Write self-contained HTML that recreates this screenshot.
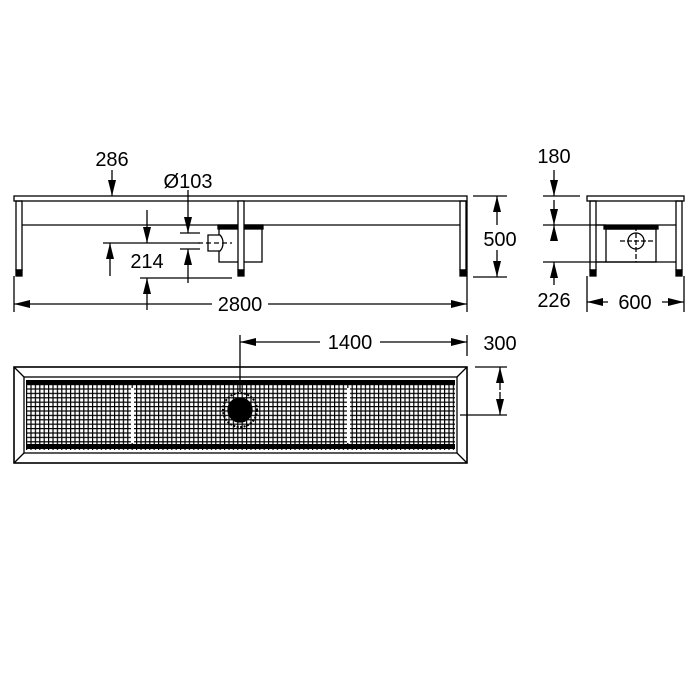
<!DOCTYPE html>
<html><head><style>body{margin:0;background:#fff}svg{display:block}text{font-family:"Liberation Sans",sans-serif;font-size:20px;fill:#000}</style></head>
<body>
<svg width="700" height="700" viewBox="0 0 700 700" xmlns="http://www.w3.org/2000/svg">
<defs>
<marker id="a" markerWidth="16" markerHeight="8" refX="16" refY="4" orient="auto" markerUnits="userSpaceOnUse"><path d="M0,0L16,4L0,8z" fill="#000"/></marker>
<pattern id="m" width="4.4" height="4.4" patternUnits="userSpaceOnUse" x="26" y="384"><rect width="4.4" height="4.4" fill="#000"/><rect x="1.2" y="1.2" width="3.2" height="3.2" fill="#fff"/></pattern>
</defs>
<g stroke="#000" fill="none" stroke-width="1.3">
<rect x="14" y="196" width="453" height="5"/>
<line x1="22" y1="225" x2="460" y2="225"/>
<rect x="16" y="201" width="6" height="69"/><rect x="16" y="270" width="6" height="6" fill="#000"/>
<rect x="460" y="201" width="6" height="69"/><rect x="460" y="270" width="6" height="6" fill="#000"/>
<rect x="219" y="226" width="43" height="36"/><rect x="218" y="225" width="45" height="4" fill="#000"/>
<rect x="238" y="201" width="6" height="69" fill="#fff"/><rect x="238" y="270" width="6" height="6" fill="#000"/>
<path d="M208,235H220C224,239 224,247 220,251H208Z" fill="#fff"/>
<line x1="198" y1="243" x2="232" y2="243" stroke-dasharray="5,3"/>
<line x1="112" y1="170" x2="112" y2="196" marker-end="url(#a)"/>
<line x1="147" y1="210" x2="147" y2="243" marker-end="url(#a)"/>
<line x1="103" y1="243" x2="200" y2="243"/>
<line x1="110" y1="276" x2="110" y2="243" marker-end="url(#a)"/>
<line x1="140" y1="278" x2="232" y2="278"/>
<line x1="147" y1="310" x2="147" y2="278" marker-end="url(#a)"/>
<line x1="188" y1="190" x2="188" y2="233" marker-end="url(#a)"/>
<line x1="180" y1="233" x2="200" y2="233"/><line x1="180" y1="249" x2="200" y2="249"/>
<line x1="188" y1="283" x2="188" y2="249" marker-end="url(#a)"/>
<line x1="14" y1="276" x2="14" y2="312"/><line x1="467" y1="201" x2="467" y2="312"/>
<line x1="212" y1="304" x2="14" y2="304" marker-end="url(#a)"/>
<line x1="268" y1="304" x2="467" y2="304" marker-end="url(#a)"/>
<line x1="473" y1="196" x2="507" y2="196"/><line x1="473" y1="277" x2="507" y2="277"/>
<line x1="497" y1="225" x2="497" y2="196" marker-end="url(#a)"/>
<line x1="497" y1="250" x2="497" y2="277" marker-end="url(#a)"/>
<rect x="587" y="196" width="97" height="5"/>
<rect x="590" y="201" width="6" height="69"/><rect x="590" y="270" width="6" height="6" fill="#000"/>
<rect x="676" y="201" width="6" height="69"/><rect x="676" y="270" width="6" height="6" fill="#000"/>
<line x1="596" y1="225" x2="676" y2="225"/>
<line x1="596" y1="262" x2="676" y2="262"/>
<rect x="606" y="229" width="50" height="33"/><rect x="604" y="226" width="54" height="3" fill="#000"/>
<circle cx="636" cy="241" r="8"/><line x1="620" y1="241" x2="654" y2="241" stroke-dasharray="5,2"/><line x1="636" y1="226" x2="636" y2="262" stroke-dasharray="5,2"/>
<line x1="543" y1="196" x2="580" y2="196"/><line x1="543" y1="225" x2="606" y2="225"/><line x1="543" y1="262" x2="606" y2="262"/>
<line x1="554" y1="170" x2="554" y2="196" marker-end="url(#a)"/>
<line x1="554" y1="200" x2="554" y2="225" marker-end="url(#a)"/>
<line x1="554" y1="240" x2="554" y2="225" marker-end="url(#a)"/>
<line x1="554" y1="285" x2="554" y2="262" marker-end="url(#a)"/>
<line x1="587" y1="276" x2="587" y2="312"/><line x1="684" y1="276" x2="684" y2="312"/>
<line x1="608" y1="302" x2="587" y2="302" marker-end="url(#a)"/>
<line x1="662" y1="302" x2="684" y2="302" marker-end="url(#a)"/>
<rect x="14" y="367" width="453" height="96" stroke-width="1.6"/>
<rect x="24" y="377" width="433" height="76"/>
<path d="M14,367L24,377M467,367L457,377M14,463L24,453M467,463L457,453"/>
<rect x="26" y="381" width="429" height="69" fill="url(#m)" stroke="none"/>
<rect x="26" y="380" width="429" height="4" fill="#000" stroke="none"/>
<rect x="26" y="444" width="429" height="5" fill="#000" stroke="none"/>
<rect x="131" y="388" width="3" height="55" fill="#fff" stroke="none"/>
<rect x="347" y="388" width="3" height="55" fill="#fff" stroke="none"/>
<circle cx="240" cy="410" r="17" stroke-dasharray="2,1.5" stroke-width="2"/>
<circle cx="240" cy="410" r="12" fill="#000"/>
<line x1="240" y1="335" x2="240" y2="392"/>
<line x1="467" y1="335" x2="467" y2="356"/>
<line x1="320" y1="342" x2="240" y2="342" marker-end="url(#a)"/>
<line x1="380" y1="342" x2="467" y2="342" marker-end="url(#a)"/>
<line x1="475" y1="367" x2="507" y2="367"/><line x1="460" y1="415" x2="507" y2="415"/>
<line x1="500" y1="390" x2="500" y2="367" marker-end="url(#a)"/>
<line x1="500" y1="392" x2="500" y2="415" marker-end="url(#a)"/>
</g>
<g text-anchor="middle">
<text x="112" y="166">286</text>
<text x="188" y="188">Ø103</text>
<text x="147" y="268">214</text>
<text x="240" y="311">2800</text>
<text x="500" y="246">500</text>
<text x="554" y="163">180</text>
<text x="554" y="307">226</text>
<text x="635" y="309">600</text>
<text x="350" y="349">1400</text>
<text x="500" y="350">300</text>
</g>
</svg>
</body></html>
